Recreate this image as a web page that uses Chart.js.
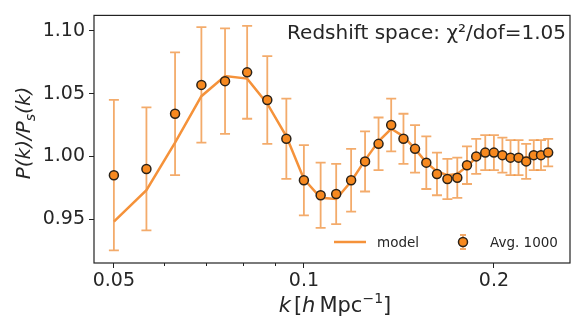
<!DOCTYPE html>
<html>
<head>
<meta charset="utf-8">
<script src="https://cdn.jsdelivr.net/npm/chart.js@4.4.1/dist/chart.umd.min.js"></script>
<style>
  html, body { margin: 0; padding: 0; background: #fff; }
  #wrap { width: 576px; height: 322px; }
</style>
</head>
<body>
<div id="wrap"><canvas id="chart"></canvas></div>
<script>
// k values [h/Mpc]
const K = [0.0500, 0.0563, 0.0625, 0.0688, 0.0750, 0.0813, 0.0875, 0.0938,
           0.1000, 0.1063, 0.1125, 0.1188, 0.1250, 0.1313, 0.1375, 0.1438,
           0.1500, 0.1563, 0.1625, 0.1688, 0.1750, 0.1813, 0.1875, 0.1938,
           0.2000, 0.2063, 0.2125, 0.2188, 0.2250, 0.2313, 0.2375, 0.2438];
// Avg. 1000 points and their 1-sigma errors
const AVG = [0.985, 0.990, 1.034, 1.057, 1.060, 1.067, 1.045, 1.014,
             0.981, 0.969, 0.970, 0.981, 0.996, 1.010, 1.025, 1.014,
             1.006, 0.995, 0.986, 0.982, 0.983, 0.993, 1.000, 1.003,
             1.003, 1.001, 0.999, 0.999, 0.996, 1.001, 1.001, 1.003];
const ERR = [0.060, 0.049, 0.049, 0.046, 0.042, 0.037, 0.035, 0.032,
             0.028, 0.026, 0.024, 0.025, 0.024, 0.021, 0.021, 0.020,
             0.019, 0.021, 0.017, 0.016, 0.016, 0.015, 0.014, 0.014,
             0.014, 0.014, 0.014, 0.014, 0.014, 0.012, 0.012, 0.011];
// model curve
const MODEL = [0.948, 0.973, 1.011, 1.048, 1.064, 1.062, 1.042, 1.016,
               0.982, 0.967, 0.966, 0.980, 0.997, 1.012, 1.022, 1.016,
               1.006, 0.995, 0.988, 0.985, 0.986, 0.992, 0.999, 1.002,
               1.003, 1.002, 1.000, 0.999, 0.999, 1.000, 1.001, 1.002];

const X_TICKS = [0.05, 0.1, 0.2];
const X_MINOR = [0.06, 0.07, 0.08, 0.09];
const Y_TICKS = [0.95, 1.00, 1.05, 1.10];
const CHI_TEXT = "Redshift space: \u03c7\u00b2/dof=1.05";

const COL = {
  model: "#f5923a",
  err: "rgba(240,150,70,0.8)",
  marker: "#f7891f",
  edge: "#2b2218",
  text: "#262626",
  frame: "#222",
};
const FONT = "'DejaVu Sans', sans-serif";

// error bars for the Avg. dataset, drawn just before its markers
const errorBars = {
  id: "errorBars",
  beforeDatasetDraw(chart, args) {
    if (args.index !== 1) return;
    const { ctx, scales: { x, y } } = chart;
    ctx.save();
    ctx.strokeStyle = COL.err;
    ctx.lineWidth = 1.8;
    K.forEach((k, i) => {
      const px = x.getPixelForValue(k);
      const top = y.getPixelForValue(AVG[i] + ERR[i]);
      const bot = y.getPixelForValue(AVG[i] - ERR[i]);
      ctx.beginPath();
      ctx.moveTo(px, top); ctx.lineTo(px, bot);
      ctx.moveTo(px - 5, top); ctx.lineTo(px + 5, top);
      ctx.moveTo(px - 5, bot); ctx.lineTo(px + 5, bot);
      ctx.stroke();
    });
    ctx.restore();
  },
};

// draw a row of [font, text, dy] pieces centred on cx
function drawParts(ctx, parts, cx, y) {
  let w = 0;
  parts.forEach((p) => { ctx.font = p[0]; w += ctx.measureText(p[1]).width + (p[3] || 0); });
  let px = cx - w / 2;
  parts.forEach((p) => {
    ctx.font = p[0]; ctx.fillText(p[1], px, y + p[2]);
    px += ctx.measureText(p[1]).width + (p[3] || 0);
  });
}

// frame, minor ticks, annotation, legend and axis titles
const decor = {
  id: "decor",
  afterDraw(chart) {
    const { ctx, chartArea: a, scales: { x } } = chart;
    ctx.save();
    ctx.strokeStyle = COL.frame;
    ctx.lineWidth = 1.2;
    ctx.strokeRect(a.left, a.top, a.right - a.left, a.bottom - a.top);

    ctx.lineWidth = 1;
    X_MINOR.forEach((v) => {
      const px = Math.round(x.getPixelForValue(v)) + 0.5;
      ctx.beginPath(); ctx.moveTo(px, a.bottom); ctx.lineTo(px, a.bottom + 3); ctx.stroke();
    });

    ctx.fillStyle = COL.text;
    ctx.textBaseline = "alphabetic";
    ctx.font = "20px " + FONT;
    ctx.textAlign = "right";
    ctx.fillText(CHI_TEXT, 566, 39);

    // legend
    const ly = 242;
    ctx.strokeStyle = COL.model;
    ctx.lineWidth = 2.5;
    ctx.beginPath(); ctx.moveTo(334, ly); ctx.lineTo(366, ly); ctx.stroke();
    ctx.font = "13.5px " + FONT;
    ctx.textAlign = "left";
    ctx.textBaseline = "middle";
    ctx.fillText("model", 377, ly + 1);
    ctx.strokeStyle = COL.err;
    ctx.lineWidth = 1.8;
    ctx.beginPath();
    ctx.moveTo(463, ly - 7); ctx.lineTo(463, ly + 7);
    ctx.moveTo(460, ly - 7); ctx.lineTo(466, ly - 7);
    ctx.moveTo(460, ly + 7); ctx.lineTo(466, ly + 7);
    ctx.stroke();
    ctx.beginPath(); ctx.arc(463, ly, 4.5, 0, Math.PI * 2);
    ctx.fillStyle = COL.marker; ctx.fill();
    ctx.strokeStyle = COL.edge; ctx.lineWidth = 1.5; ctx.stroke();
    ctx.fillStyle = COL.text;
    ctx.fillText("Avg. 1000", 490, ly + 1);

    // x title: k [h Mpc^-1]
    ctx.textBaseline = "alphabetic";
    drawParts(ctx, [
      ["italic 21px " + FONT, "k", 0, 3],
      ["21px " + FONT, "[", 0, 0],
      ["italic 21px " + FONT, "h", 0, 4],
      ["21px " + FONT, "Mpc", 0, 0],
      ["14px " + FONT, "\u22121", -9, 0],
      ["21px " + FONT, "]", 0, 0],
    ], 335, 312);

    // y title: P(k)/P_s(k)
    ctx.translate(30, 133);
    ctx.rotate(-Math.PI / 2);
    drawParts(ctx, [
      ["italic 20px " + FONT, "P(k)/P", 0, 0],
      ["italic 14px " + FONT, "s", 5, 0],
      ["italic 20px " + FONT, "(k)", 0, 0],
    ], 0, 0);
    ctx.restore();
  },
};

new Chart(document.getElementById("chart"), {
  type: "scatter",
  data: {
    datasets: [
      {
        label: "model",
        data: K.map((k, i) => ({ x: k, y: MODEL[i] })),
        showLine: true,
        borderColor: COL.model,
        borderWidth: 2.5,
        pointRadius: 0,
        order: 2,
      },
      {
        label: "Avg. 1000",
        data: K.map((k, i) => ({ x: k, y: AVG[i] })),
        showLine: false,
        pointRadius: 4.5,
        pointBackgroundColor: COL.marker,
        pointBorderColor: COL.edge,
        pointBorderWidth: 1.5,
        order: 1,
      },
    ],
  },
  options: {
    responsive: true,
    maintainAspectRatio: false,
    animation: false,
    layout: { padding: { top: 9, right: 1, left: 0, bottom: 0 } },
    plugins: { legend: { display: false }, tooltip: { enabled: false } },
    scales: {
      x: {
        type: "logarithmic",
        min: 0.0465,
        max: 0.264,
        afterBuildTicks: (s) => { s.ticks = X_TICKS.map((v) => ({ value: v })); },
        afterFit: (s) => { s.height = 59; },
        ticks: {
          callback: (v) => String(v),
          autoSkip: false,
          maxRotation: 0,
          padding: 2,
          color: COL.text,
          font: { family: FONT, size: 19 },
        },
        grid: { drawOnChartArea: false, tickLength: 5, color: COL.frame },
        border: { display: false },
      },
      y: {
        min: 0.915,
        max: 1.1124,
        afterBuildTicks: (s) => { s.ticks = Y_TICKS.map((v) => ({ value: v })); },
        afterFit: (s) => { s.width = 94; },
        ticks: {
          callback: (v) => v.toFixed(2),
          padding: 4,
          color: COL.text,
          font: { family: FONT, size: 19 },
        },
        grid: { drawOnChartArea: false, tickLength: 5, color: COL.frame },
        border: { display: false },
      },
    },
  },
  plugins: [errorBars, decor],
});
</script>
</body>
</html>
